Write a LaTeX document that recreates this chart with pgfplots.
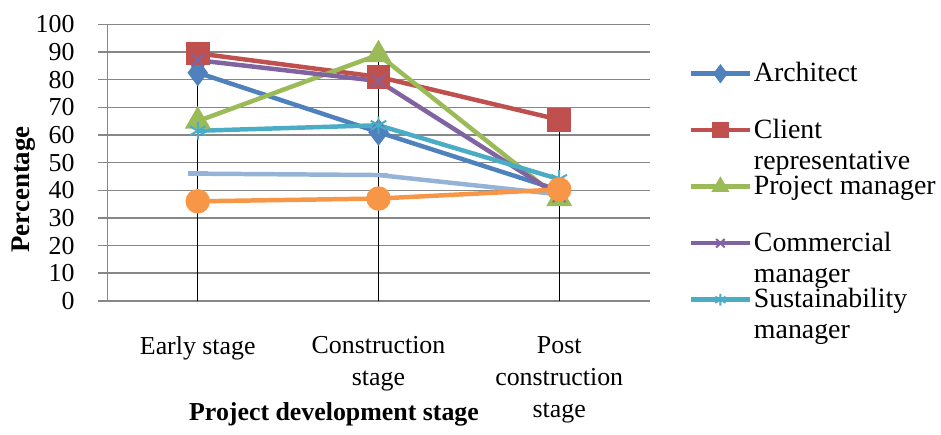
\documentclass[border={2.5pt 1pt 1pt 4.5pt}]{standalone}
\usepackage{pgfplots}
\pgfplotsset{compat=1.18}
\usepackage{fontspec}
\setmainfont{Liberation Serif}
\definecolor{cA}{HTML}{4F81BD}
\definecolor{cB}{HTML}{C0504D}
\definecolor{cC}{HTML}{9BBB59}
\definecolor{cD}{HTML}{8064A2}
\definecolor{cE}{HTML}{4BACC6}
\definecolor{cF}{HTML}{F79646}
\definecolor{cG}{HTML}{95B3D7}
\definecolor{gridc}{HTML}{878787}
\newcommand{\lent}[1]{\raisebox{0pt}[17.2pt][9.2pt]{\parbox[t]{92pt}{\baselineskip=15.5pt #1}}}
\begin{document}
\begin{tikzpicture}
\begin{axis}[
  scale only axis,
  width=272.5pt, height=139pt,
  xmin=-0.5, xmax=2.5, ymin=0, ymax=100,
  axis x line=bottom, axis y line=left,
  x axis line style={-, draw=gridc, line width=1pt},
  y axis line style={-, draw=gridc, line width=0.75pt},
  xtick={0,1,2},
  xticklabels={Early stage, Construction\\stage, Post\\construction\\stage},
  xtick style={draw=none},
  ytick={0,10,...,100},
  ytick style={draw=gridc, line width=0.75pt},
  tick align=outside, major tick length=4.5pt,
  ymajorgrids, grid style={draw=gridc, line width=0.75pt},
  tick label style={font=\fontsize{13pt}{16pt}\selectfont},
  xticklabel style={align=center, yshift=-10pt},
  yticklabel style={xshift=-8.5pt},
  /pgf/number format/assume math mode=true,
  xlabel={\textbf{Project development stage}},
  ylabel={\textbf{Percentage}},
  xlabel style={at={(axis description cs:0.418,-0.41)}, anchor=center, font=\fontsize{13pt}{16pt}\selectfont},
  ylabel style={at={(axis description cs:-0.155,0.403)}, anchor=center, font=\fontsize{13.5pt}{16pt}\selectfont},
  clip=false,
  legend style={draw=none, fill=none, at={(axis description cs:1.0716,0.925)}, anchor=north west, row sep=0pt, inner sep=0pt,
    font=\fontsize{14pt}{15.5pt}\selectfont, nodes={inner sep=1pt, text depth=}},
  legend cell align=left,
  legend image code/.code={\draw[mark repeat=2,mark phase=2,#1] plot coordinates {(0pt,0pt)(14.75pt,0pt)(29.5pt,0pt)};},
  legend image post style={mark size=3pt},
  every axis plot/.append style={line width=2.25pt, mark options={solid}},
]
\addplot[cA, mark=diamond*, mark size=5pt] coordinates {(0,82.5) (1,61) (2,40)};
\addlegendentry{\lent{Architect}}
\addplot[cB, mark=square*, mark size=4.8pt] coordinates {(0,89.5) (1,81) (2,65.5)};
\addlegendentry{\lent{Client\\representative}}
\addplot[cC, mark=triangle*, mark size=5.3pt] coordinates {(0,65) (1,89) (2,37)};
\addlegendentry{\lent{Project manager}}
\addplot[cD, mark=x, mark size=4.5pt, mark options={line width=1pt}] coordinates {(0,87) (1,79.5) (2,38)};
\addlegendentry{\lent{Commercial\\manager}}
\addplot[cE, mark=asterisk, mark size=4.5pt, mark options={line width=1pt}] coordinates {(0,61.5) (1,63.5) (2,44)};
\addlegendentry{\lent{Sustainability\\manager}}
\addplot[cG, mark=-, mark size=5pt, forget plot] coordinates {(0,46) (1,45.5) (2,38.5)};
\addplot[cF, mark=*, mark size=5pt, forget plot] coordinates {(0,36) (1,37) (2,40.3)};
\addplot[ycomb, black, line width=0.6pt, mark=none, forget plot] coordinates {(0,89.5) (1,89) (2,65.5)};
\end{axis}
\end{tikzpicture}
\end{document}
